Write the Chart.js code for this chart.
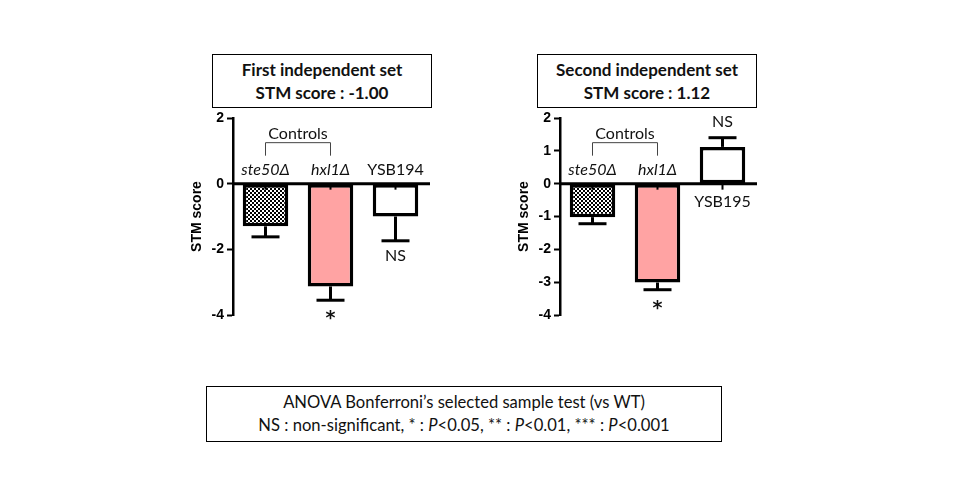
<!DOCTYPE html>
<html>
<head>
<meta charset="utf-8">
<script src="https://cdn.jsdelivr.net/npm/chart.js@4.4.1/dist/chart.umd.min.js"></script>
<style>
  body { margin: 0; width: 960px; height: 500px; background: #fff; position: relative; overflow: hidden; font-family: Lato, "Open Sans", sans-serif; color: #111; }
  .box { position: absolute; border: 1.5px solid #000; box-sizing: border-box; text-align: center; line-height: 23px; padding-top: 3px; }
  .title { font-weight: bold; font-size: 17px; top: 54px; height: 54px; }
  .note { left: 206px; top: 386px; width: 516px; height: 56px; font-size: 16.6px; padding-top: 4px; }
  canvas { position: absolute; }
</style>
</head>
<body>
<div class="box title" style="left:212px;width:220px">First independent set<br>STM score : -1.00</div>
<div class="box title" style="left:537px;width:220px">Second independent set<br>STM score : 1.12</div>
<div class="box note">ANOVA Bonferroni’s selected sample test (vs WT)<br>NS : non-significant, * : <i>P</i>&lt;0.05, ** : <i>P</i>&lt;0.01, *** : <i>P</i>&lt;0.001</div>

<canvas id="set1" width="270" height="230" style="left:170px;top:100px"></canvas>
<canvas id="set2" width="270" height="230" style="left:497px;top:100px"></canvas>

<script>
// first set
const categories1 = ["ste50Δ", "hxl1Δ", "YSB194"];
const scores1 = [-1.30, -3.13, -1.00];
const errors1 = [0.32, 0.42, 0.74];
const signif1 = ["", "*", "NS"];

// second set
const categories2 = ["ste50Δ", "hxl1Δ", "YSB195"];
const scores2 = [-1.02, -3.01, 1.12];
const errors2 = [0.20, 0.22, 0.28];
const signif2 = ["", "*", "NS"];

const italicCats = [true, true, false];
const yMin = -4, yMax = 2;
const yStep1 = 2, yStep2 = 1;

const labelFont = "Lato, 'Open Sans', sans-serif";
const axisFont = "'Liberation Sans', Arial, sans-serif";

function checker() {
  const c = document.createElement("canvas");
  c.width = 4; c.height = 4;
  const g = c.getContext("2d");
  g.fillStyle = "#fff"; g.fillRect(0, 0, 4, 4);
  g.fillStyle = "#000"; g.fillRect(0, 0, 2, 2); g.fillRect(2, 2, 2, 2);
  return g.createPattern(c, "repeat");
}

// error bars, zero line, labels, bracket, significance marks
const marks = {
  id: "marks",
  afterDatasetsDraw(chart, args, opts) {
    const ctx = chart.ctx;
    const xs = chart.scales.x, ys = chart.scales.y;
    const area = chart.chartArea;
    const y0 = ys.getPixelForValue(0);
    const vals = chart.data.datasets[0].data;
    ctx.save();
    ctx.strokeStyle = "#000";
    ctx.lineCap = "butt";

    ctx.lineWidth = 3;
    ctx.beginPath(); ctx.moveTo(area.left, y0); ctx.lineTo(area.right + 2, y0); ctx.stroke();

    vals.forEach((v, i) => {
      const cx = xs.getPixelForValue(i);
      ctx.lineWidth = 2;
      ctx.beginPath(); ctx.moveTo(cx, y0); ctx.lineTo(cx, y0 + 6); ctx.stroke();
      const end = v + Math.sign(v) * opts.errors[i];
      const yv = ys.getPixelForValue(v), ye = ys.getPixelForValue(end);
      ctx.lineWidth = 3;
      ctx.beginPath(); ctx.moveTo(cx, yv); ctx.lineTo(cx, ye); ctx.stroke();
      ctx.beginPath(); ctx.moveTo(cx - 14, ye); ctx.lineTo(cx + 14, ye); ctx.stroke();

      ctx.fillStyle = "#111";
      ctx.textAlign = "center";
      ctx.textBaseline = "middle";
      ctx.font = (italicCats[i] ? "italic " : "") + "16px " + labelFont;
      ctx.fillText(chart.data.labels[i], cx, v < 0 ? y0 - 14 : y0 + 18);

      const s = opts.signif[i];
      if (s === "*") {
        ctx.font = "bold 19px 'DejaVu Sans', sans-serif";
        ctx.fillText(s, cx, ye + 19);
      } else if (s) {
        ctx.font = "16px " + labelFont;
        ctx.fillText(s, cx, v < 0 ? ye + 15 : ye - 16);
      }
    });

    const xa = xs.getPixelForValue(0), xb = xs.getPixelForValue(1);
    ctx.strokeStyle = "#444";
    ctx.lineWidth = 1;
    ctx.beginPath();
    ctx.moveTo(xa, y0 - 28); ctx.lineTo(xa, y0 - 41); ctx.lineTo(xb, y0 - 41); ctx.lineTo(xb, y0 - 28);
    ctx.stroke();
    ctx.fillStyle = "#111";
    ctx.font = "16px " + labelFont;
    ctx.fillText("Controls", (xa + xb) / 2, y0 - 50);
    ctx.restore();
  }
};

function makeChart(id, cats, vals, errs, sig, step) {
  return new Chart(document.getElementById(id), {
    type: "bar",
    data: {
      labels: cats,
      datasets: [{
        data: vals,
        backgroundColor: [checker(), "#ffa3a3", "#ffffff"],
        borderColor: "#000",
        borderWidth: 3.5,
        borderSkipped: false,
        barPercentage: 0.7,
        categoryPercentage: 1
      }]
    },
    options: {
      responsive: false,
      animation: false,
      layout: { padding: { top: 18, bottom: 15, left: 0, right: 12 } },
      plugins: {
        legend: { display: false },
        tooltip: { enabled: false },
        marks: { errors: errs, signif: sig }
      },
      scales: {
        x: { display: false },
        y: {
          min: yMin, max: yMax,
          ticks: { stepSize: step, color: "#000", padding: 3, font: { family: axisFont, size: 14, weight: "bold" } },
          grid: { drawOnChartArea: false, drawTicks: true, tickLength: 6, tickColor: "#000", tickWidth: 2 },
          border: { color: "#000", width: 2.5 },
          title: { display: true, text: "STM score", color: "#000", padding: { top: 19, bottom: 0 }, font: { family: axisFont, size: 14, weight: "bold" } },
          afterFit(s) { s.width = 63; s.paddingTop = 0; s.paddingBottom = 0; }
        }
      }
    },
    plugins: [marks]
  });
}

makeChart("set1", categories1, scores1, errors1, signif1, yStep1);
makeChart("set2", categories2, scores2, errors2, signif2, yStep2);
</script>
</body>
</html>
